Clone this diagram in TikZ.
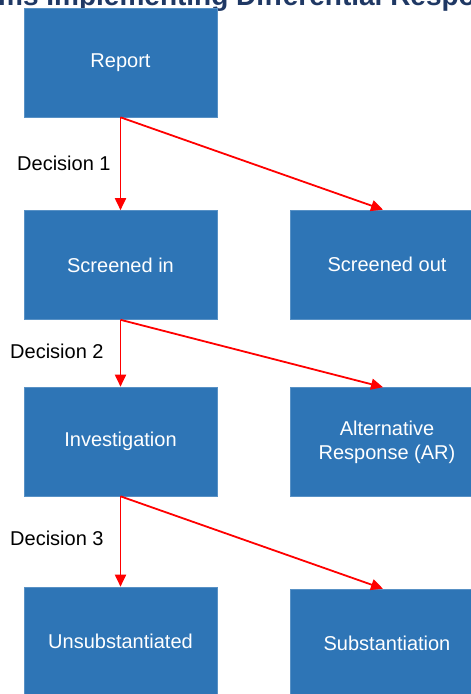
\documentclass[tikz,border=0pt]{standalone}
\usepackage{fontspec}
\setmainfont{Liberation Sans}
\usetikzlibrary{arrows.meta}
\definecolor{boxblue}{RGB}{46,117,182}
\definecolor{titleblue}{RGB}{31,56,100}

\begin{document}
\begin{tikzpicture}[x=1pt,y=-1pt,
    stage/.style={rectangle, fill=boxblue, draw=boxblue!80!white, line width=0.6pt,
      minimum width=193pt, minimum height=109pt, inner sep=0pt,
      text=white, align=center, font=\fontsize{20}{24}\selectfont},
    decision/.style={anchor=west, inner sep=0pt, text=black, font=\fontsize{20}{24}\selectfont},
    flow/.style={draw=red, line width=1.8pt, -{Triangle[length=12pt,width=11pt]}}]
  \useasboundingbox (0,0) rectangle (471,694);

  % Title (cut off by the page)
  \node[anchor=base west, inner sep=0pt, text=titleblue,
    font=\fontsize{28}{32}\selectfont\bfseries] (title) at (-2,5) {ms Implementing Differential Respo};

  % Stages
  \node[stage] (report) at (120.5,62.5) {Report};
  \node[stage] (screenin) at (120.5,265) {Screened in};
  \node[stage] (screenout) at (387,264.5) {Screened out};
  \node[stage] (invest) at (120.5,441.5) {Investigation};
  \node[stage] (altresp) at (387,442) {Alternative\\Response (AR)};
  \node[stage] (unsub) at (120.5,641.5) {Unsubstantiated};
  \node[stage] (subst) at (387,643.5) {Substantiation};

  % Decisions
  \node[decision] (dec1) at (17,163) {Decision 1};
  \node[decision] (dec2) at (10,351) {Decision 2};
  \node[decision] (dec3) at (10,538) {Decision 3};

  \draw[flow] (report.south) -- (screenin.north);
  \draw[flow] (report.south) -- ([xshift=-4pt]screenout.north);
  \draw[flow] (screenin.south) -- (invest.north);
  \draw[flow] (screenin.south) -- ([xshift=-4pt]altresp.north);
  \draw[flow] (invest.south) -- (unsub.north);
  \draw[flow] (invest.south) -- ([xshift=-4pt]subst.north);
\end{tikzpicture}
\end{document}
